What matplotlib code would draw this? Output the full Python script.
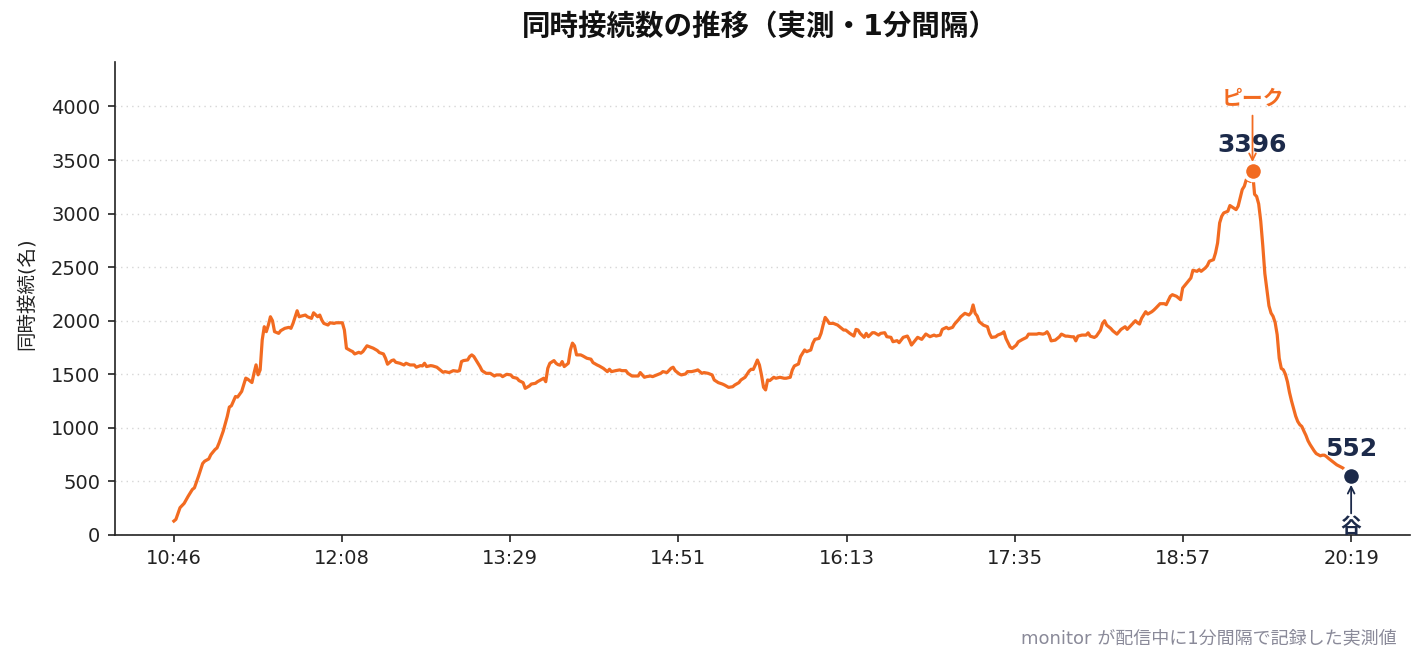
import matplotlib
matplotlib.use("Agg")
import matplotlib.pyplot as plt
import numpy as np

plt.rcParams['font.family'] = ['DejaVu Sans', 'Noto Sans CJK JP']

# minutes after 10:46 and concurrent viewers
minutes = [0, 1, 3, 5, 7, 9, 10, 12, 14, 15, 17, 18, 20, 21, 22, 24, 26, 27, 28, 30,
           31, 33, 35, 36, 38, 39, 40, 41, 42, 43, 44, 45, 46, 47, 48, 49, 51, 52, 54, 56,
           57, 58, 60, 61, 62, 64, 65, 67, 68, 70, 71, 72, 73, 75, 76, 78, 79, 82, 83, 84,
           86, 87, 88, 90, 91, 92, 94, 95, 97, 99, 100, 102, 103, 104, 106, 107, 108, 110, 112, 113,
           115, 117, 118, 120, 121, 122, 123, 125, 126, 128, 130, 131, 132, 134, 136, 138, 139, 140, 141, 143,
           144, 145, 146, 147, 149, 150, 152, 154, 156, 157, 159, 160, 162, 164, 165, 167, 168, 170, 171, 173,
           174, 176, 177, 179, 180, 181, 182, 183, 185, 186, 187, 188, 189, 190, 192, 193, 194, 195, 196, 198,
           199, 201, 203, 204, 206, 207, 209, 211, 212, 213, 215, 217, 218, 220, 221, 223, 224, 226, 227, 229,
           230, 232, 233, 235, 237, 238, 240, 242, 243, 244, 246, 247, 249, 250, 252, 254, 255, 257, 258, 260,
           262, 263, 265, 267, 268, 270, 272, 273, 275, 276, 278, 280, 281, 282, 283, 284, 285, 286, 287, 288,
           289, 290, 292, 293, 295, 297, 298, 300, 301, 302, 304, 305, 306, 307, 308, 310, 311, 312, 314, 315,
           316, 317, 318, 319, 321, 323, 324, 326, 327, 329, 331, 332, 333, 334, 336, 337, 338, 340, 341, 343,
           344, 346, 347, 349, 350, 352, 353, 355, 357, 358, 359, 361, 362, 364, 365, 366, 368, 370, 371, 373,
           374, 376, 377, 379, 380, 382, 383, 385, 387, 388, 389, 390, 391, 392, 394, 396, 397, 398, 400, 401,
           403, 404, 405, 407, 408, 410, 411, 413, 415, 416, 418, 420, 421, 423, 424, 425, 426, 427, 429, 431,
           432, 434, 435, 437, 438, 439, 440, 442, 444, 445, 446, 448, 449, 451, 452, 453, 454, 456, 457, 459,
           460, 461, 463, 464, 466, 468, 469, 470, 471, 473, 474, 476, 477, 478, 480, 482, 483, 485, 486, 488,
           490, 491, 493, 495, 496, 498, 499, 500, 502, 503, 504, 506, 507, 508, 509, 510, 511, 513, 514, 515,
           517, 518, 519, 520, 521, 522, 524, 525, 526, 527, 528, 529, 530, 531, 532, 533, 534, 535, 536, 537,
           538, 539, 540, 541, 542, 543, 544, 545, 546, 547, 548, 549, 550, 551, 552, 553, 554, 555, 556, 557,
           558, 559, 560, 561, 562, 563, 565, 566, 568, 569, 573]
viewers = [130, 146, 255, 295, 363, 425, 440, 549, 667, 689, 710, 750, 797, 813, 859, 968, 1107, 1194, 1206, 1293,
           1287, 1340, 1464, 1454, 1423, 1510, 1588, 1495, 1541, 1820, 1944, 1898, 1960, 2037, 2000, 1898, 1882, 1907, 1929, 1938,
           1929, 1975, 2093, 2037, 2043, 2053, 2037, 2022, 2074, 2037, 2053, 2006, 1975, 1960, 1981, 1975, 1981, 1981, 1913, 1743,
           1721, 1712, 1690, 1705, 1697, 1712, 1766, 1759, 1744, 1722, 1703, 1690, 1650, 1594, 1628, 1634, 1612, 1603, 1587, 1603,
           1587, 1587, 1566, 1581, 1578, 1603, 1572, 1581, 1578, 1566, 1534, 1519, 1525, 1516, 1534, 1528, 1534, 1619, 1628, 1634,
           1666, 1681, 1666, 1634, 1572, 1534, 1509, 1509, 1484, 1494, 1494, 1478, 1500, 1494, 1472, 1463, 1441, 1422, 1369, 1391,
           1409, 1416, 1431, 1453, 1463, 1431, 1556, 1603, 1628, 1603, 1590, 1585, 1619, 1572, 1603, 1728, 1791, 1766, 1681, 1681,
           1672, 1650, 1641, 1609, 1587, 1578, 1556, 1525, 1547, 1525, 1534, 1541, 1534, 1534, 1509, 1484, 1484, 1484, 1516, 1472,
           1478, 1484, 1478, 1494, 1509, 1525, 1516, 1556, 1566, 1534, 1503, 1494, 1503, 1525, 1525, 1534, 1541, 1509, 1516, 1509,
           1494, 1447, 1422, 1409, 1400, 1378, 1384, 1400, 1422, 1447, 1472, 1530, 1547, 1545, 1587, 1633, 1587, 1494, 1379, 1354,
           1447, 1441, 1472, 1463, 1472, 1463, 1463, 1472, 1540, 1578, 1596, 1665, 1696, 1727, 1711, 1727, 1789, 1826, 1835, 1882,
           1960, 2031, 2006, 1975, 1975, 1960, 1944, 1913, 1913, 1882, 1857, 1919, 1913, 1882, 1845, 1882, 1851, 1888, 1888, 1866,
           1882, 1888, 1851, 1845, 1804, 1814, 1795, 1845, 1857, 1820, 1773, 1820, 1845, 1826, 1851, 1876, 1851, 1866, 1857, 1866,
           1919, 1938, 1925, 1938, 1969, 2012, 2037, 2069, 2053, 2075, 2147, 2069, 2044, 1991, 1959, 1944, 1881, 1844, 1850, 1866,
           1881, 1897, 1834, 1756, 1741, 1772, 1803, 1825, 1844, 1875, 1875, 1875, 1881, 1875, 1881, 1897, 1866, 1812, 1819, 1850,
           1875, 1856, 1856, 1850, 1850, 1812, 1856, 1866, 1866, 1887, 1856, 1844, 1856, 1912, 1975, 2000, 1959, 1928, 1906, 1875,
           1897, 1919, 1944, 1919, 1959, 2000, 1981, 1969, 2022, 2084, 2062, 2084, 2100, 2119, 2159, 2159, 2150, 2228, 2243, 2228,
           2196, 2305, 2352, 2399, 2471, 2461, 2477, 2461, 2492, 2514, 2555, 2570, 2633, 2726, 2913, 2975, 3006, 3022, 3075, 3062,
           3037, 3069, 3146, 3224, 3255, 3318, 3300, 3396, 3180, 3160, 3090, 2930, 2700, 2440, 2290, 2140, 2072, 2041, 1985, 1870,
           1650, 1555, 1542, 1500, 1430, 1330, 1250, 1180, 1110, 1060, 1030, 1013, 970, 930, 880, 845, 815, 785, 760, 750,
           739, 745, 745, 732, 715, 700, 670, 655, 635, 625, 552]

tick_pos = np.linspace(0, 573, 8)
tick_labels = ['10:46', '12:08', '13:29', '14:51', '16:13', '17:35', '18:57', '20:19']
y_ticks = [0, 500, 1000, 1500, 2000, 2500, 3000, 3500, 4000]

peak_label = 'ピーク'
valley_label = '谷'
title = '同時接続数の推移（実測・1分間隔）'
ylabel = '同時接続(名)'
footnote = 'monitor が配信中に1分間隔で記録した実測値'

ORANGE = '#F26B21'
NAVY = '#1C2A4A'

x = np.array(minutes)
y = np.array(viewers)
ipk = int(np.argmax(y))
ilast = len(y) - 1

fig = plt.figure(figsize=(14.25, 6.63), dpi=100)
ax = fig.add_axes([115/1425, 1 - 535/663, 1295/1425, (535-62)/663])

ax.plot(x, y, color=ORANGE, lw=2.3, zorder=3, solid_joinstyle='round')
ax.plot([x[ipk]], [y[ipk]], 'o', color=ORANGE, ms=13, mec='white', mew=2.5, zorder=4)
ax.plot([x[ilast]], [y[ilast]], 'o', color=NAVY, ms=13, mec='white', mew=2.5, zorder=4)

ax.set_ylim(0, y.max() * 1.3)
ax.set_xlim(-0.05 * 573, 573 * 1.05)
ax.set_yticks(y_ticks)
ax.set_xticks(tick_pos)
ax.set_xticklabels(tick_labels)
ax.grid(axis='y', linestyle=(0, (1, 3)), color='#d6d6d6', lw=1.0, zorder=0)
for s in ['top', 'right']:
    ax.spines[s].set_visible(False)
for s in ['left', 'bottom']:
    ax.spines[s].set_color('#222222')
    ax.spines[s].set_linewidth(1.2)
ax.tick_params(axis='both', labelsize=14, colors='#222222', length=5, width=1.2)
ax.tick_params(axis='x', pad=5)
ax.tick_params(axis='y', pad=5.5)

ax.set_ylabel(ylabel, fontsize=14, color='#222222')
ax.yaxis.set_label_coords((36 - 115) / 1295, 0.51)

# peak annotation
ax.annotate(f'{y[ipk]}', (x[ipk], y[ipk]), xytext=(0, 19), textcoords='offset points',
            ha='center', va='center', fontsize=18, fontweight='bold', color=NAVY, zorder=5)
ax.annotate(peak_label, (x[ipk], y[ipk]), xytext=(0, 52), textcoords='offset points',
            ha='center', va='center', fontsize=15, fontweight='bold', color=ORANGE, zorder=5)
ax.annotate('', xy=(x[ipk], y[ipk]), xytext=(0, 40), textcoords='offset points',
            arrowprops=dict(arrowstyle='->', color=ORANGE, lw=1.3, shrinkA=0, shrinkB=6.5,
                            mutation_scale=12), zorder=6)

# valley annotation
ax.annotate(f'{y[ilast]}', (x[ilast], y[ilast]), xytext=(0, 19), textcoords='offset points',
            ha='center', va='center', fontsize=18, fontweight='bold', color=NAVY, zorder=5)
ax.annotate(valley_label, (x[ilast], y[ilast]), xytext=(0, -37), textcoords='offset points',
            ha='center', va='center', fontsize=15, fontweight='bold', color=NAVY, zorder=5)
ax.annotate('', xy=(x[ilast], y[ilast]), xytext=(0, -27), textcoords='offset points',
            arrowprops=dict(arrowstyle='->', color=NAVY, lw=1.3, shrinkA=0, shrinkB=6.5,
                            mutation_scale=12), zorder=6)

fig.text(760/1425, 1 - 27/663, title, ha='center', va='center', fontsize=20.5,
         fontweight='bold', color='#111111')
fig.text(1397/1425, 1 - 638/663, footnote, ha='right', va='center', fontsize=13,
         color='#8A8A99')

fig.savefig('out.png', dpi=100)
